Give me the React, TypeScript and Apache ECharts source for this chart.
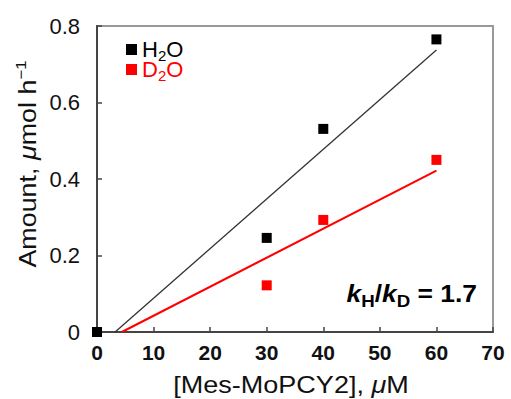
import React, { useEffect, useRef } from "react";
import * as echarts from "echarts";

const xTicks = [0, 10, 20, 30, 40, 50, 60, 70];
const yTicks = [0, 0.2, 0.4, 0.6, 0.8];
const concentrations = [0, 30, 40, 60];
const h2oValues = [0, 0.246, 0.531, 0.765];
const d2oValues = [0, 0.122, 0.293, 0.45];
const h2oFit: [number, number][] = [[3.2, 0], [60, 0.737]];
const d2oFit: [number, number][] = [[4.4, 0], [60, 0.422]];
const seriesNames = ["H2O", "D2O"];
const seriesColors = ["#000000", "#ff0000"];
const legendLabels: Record<string, string> = {
  H2O: "{hn|H}{hs|2}{hn|O}",
  D2O: "{dn|D}{ds|2}{dn|O}",
};

const FONT = "'Liberation Sans', Arial, Helvetica, sans-serif";

export default function App() {
  const ref = useRef<HTMLDivElement>(null);
  useEffect(() => {
    if (!ref.current) return;
    const chart = echarts.init(ref.current, undefined, { renderer: "svg" });
    const nTok = { fontSize: 22, lineHeight: 22, fontFamily: FONT };
    const sTok = { fontSize: 15, lineHeight: 10, padding: [12, 0, 0, 0], fontFamily: FONT };
    chart.setOption({
      animation: false,
      backgroundColor: "#fff",
      textStyle: { fontFamily: FONT },
      grid: {
        left: 97,
        right: 18,
        top: 26,
        bottom: 67,
        show: true,
        borderColor: "#999",
        borderWidth: 2,
      },
      legend: {
        orient: "vertical",
        left: 121,
        top: 31,
        itemWidth: 11,
        itemHeight: 11,
        itemGap: -7,
        icon: "rect",
        data: seriesNames,
        formatter: (name: string) => legendLabels[name] || name,
        textStyle: {
          fontSize: 22,
          fontFamily: FONT,
          rich: {
            hn: { ...nTok, color: seriesColors[0] },
            hs: { ...sTok, color: seriesColors[0] },
            dn: { ...nTok, color: seriesColors[1] },
            ds: { ...sTok, color: seriesColors[1] },
          },
        },
      },
      xAxis: {
        type: "value",
        min: xTicks[0],
        max: xTicks[xTicks.length - 1],
        interval: 10,
        axisLine: { show: true, onZero: false, lineStyle: { color: "#444", width: 2 } },
        axisTick: { show: true, inside: true, length: 5, lineStyle: { color: "#444", width: 1.5 } },
        axisLabel: { fontSize: 21, fontWeight: "bold", color: "#111", margin: 10, fontFamily: FONT },
        splitLine: { show: false },
      },
      yAxis: {
        type: "value",
        min: yTicks[0],
        max: yTicks[yTicks.length - 1],
        interval: 0.2,
        axisLine: { show: true, onZero: false, lineStyle: { color: "#444", width: 2 } },
        axisTick: { show: true, inside: true, length: 5, lineStyle: { color: "#444", width: 1.5 } },
        axisLabel: { fontSize: 22, color: "#111", margin: 17, fontFamily: FONT },
        splitLine: { show: false },
      },
      graphic: [
        {
          type: "text",
          x: 28,
          y: 164,
          rotation: Math.PI / 2,
          scaleX: 1.12,
          style: {
            text: "Amount, {i|μ}mol h{sup|−1}",
            fill: "#111",
            fontSize: 24,
            fontFamily: FONT,
            align: "center",
            verticalAlign: "middle",
            rich: {
              i: { fontStyle: "italic", fontSize: 24, fontFamily: FONT, fill: "#111" },
              sup: { fontSize: 15, fontFamily: FONT, verticalAlign: "top", lineHeight: 30, fill: "#111" },
            },
          },
        },
        {
          type: "text",
          x: 291,
          y: 385,
          scaleX: 1.15,
          style: {
            text: "[Mes-MoPCY2], {i|μ}M",
            fill: "#111",
            fontSize: 23.5,
            fontFamily: FONT,
            align: "center",
            verticalAlign: "middle",
            rich: {
              i: { fontStyle: "italic", fontSize: 23.5, fontFamily: FONT, fill: "#111" },
            },
          },
        },
        {
          type: "text",
          x: 477,
          y: 293,
          scaleX: 1.1,
          style: {
            text: "{k|k}{sb|H}{t|/}{k|k}{sb|D}{t| = 1.7}",
            fill: "#000",
            fontSize: 24,
            fontWeight: "bold",
            fontFamily: FONT,
            align: "right",
            verticalAlign: "middle",
            rich: {
              k: { fontStyle: "italic", fontWeight: "bold", fontSize: 24, lineHeight: 34, fontFamily: FONT, fill: "#000" },
              sb: { fontWeight: "bold", fontSize: 17, lineHeight: 10, verticalAlign: "bottom", fontFamily: FONT, fill: "#000" },
              t: { fontWeight: "bold", fontSize: 24, lineHeight: 34, fontFamily: FONT, fill: "#000" },
            },
          },
        },
      ],
      series: [
        {
          name: "H2O fit",
          type: "line",
          data: h2oFit,
          symbol: "none",
          lineStyle: { color: "#333", width: 1.3 },
          silent: true,
        },
        {
          name: "D2O fit",
          type: "line",
          data: d2oFit,
          symbol: "none",
          lineStyle: { color: "#ff0000", width: 2 },
          silent: true,
        },
        {
          name: seriesNames[1],
          type: "scatter",
          symbol: "rect",
          symbolSize: 10,
          itemStyle: { color: seriesColors[1], opacity: 1 },
          data: concentrations.map((x, i) => [x, d2oValues[i]]),
        },
        {
          name: seriesNames[0],
          type: "scatter",
          symbol: "rect",
          symbolSize: 10,
          itemStyle: { color: seriesColors[0], opacity: 1 },
          data: concentrations.map((x, i) => [x, h2oValues[i]]),
        },
      ],
    });
    return () => chart.dispose();
  }, []);
  return <div ref={ref} style={{ width: 511, height: 399, position: "absolute", left: 0, top: 0 }} />;
}
